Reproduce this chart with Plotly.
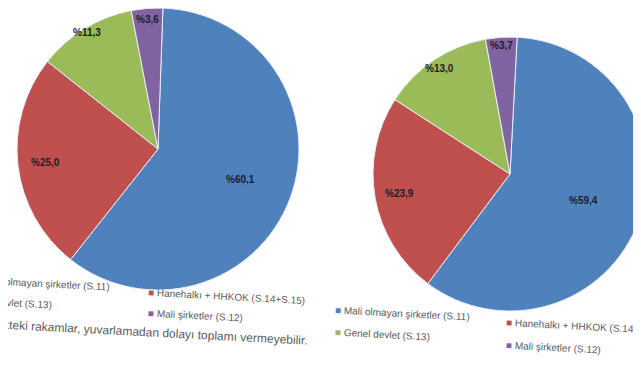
import math
import plotly.graph_objects as go

categories = ["Mali olmayan şirketler (S.11)", "Hanehalkı + HHKOK (S.14+S.15)",
              "Genel devlet (S.13)", "Mali şirketler (S.12)"]
values_left = [60.1, 25.0, 11.3, 3.6]
values_right = [59.4, 23.9, 13.0, 3.7]
colors = ["#4F81BD", "#C0504D", "#9BBB59", "#8064A2"]
footnote = "Grafikteki rakamlar, yuvarlamadan dolayı toplamı vermeyebilir."

W, H = 641, 380

# pie geometry (pixels) and label radial placement (fraction of radius, Excel "best fit" look)
pies = [
    dict(vals=values_left, cx=150, cy=141, r=141, rot=2, lab_r=[0.62, 0.8, 0.97, 0.92]),
    dict(vals=values_right, cx=502, cy=166, r=137, rot=3, lab_r=[0.57, 0.82, 0.93, 0.94]),
]


def fmt(v):
    return "%" + f"{v:.1f}".replace(".", ",")


fig = go.Figure()
annotations = []
lab_font = dict(family="Liberation Sans Narrow, Liberation Sans, Arial", size=10, color="#1c1c2c")
for p in pies:
    cx, cy, r = p["cx"], p["cy"], p["r"]
    fig.add_trace(go.Pie(
        labels=categories, values=p["vals"], sort=False, direction="clockwise",
        rotation=p["rot"],
        domain=dict(x=[(cx - r) / W, (cx + r) / W], y=[max(0, 1 - (cy + r) / H), min(1, 1 - (cy - r) / H)]),
        marker=dict(colors=colors, line=dict(color="#e8eef8", width=1)),
        textinfo="none", showlegend=False, hoverinfo="label+value",
    ))
    total = sum(p["vals"])
    cum = 0.0
    for v, f in zip(p["vals"], p["lab_r"]):
        mid = math.radians(p["rot"] + 360 * (cum + v / 2) / total)
        cum += v
        x = cx + f * r * math.sin(mid)
        y = cy - f * r * math.cos(mid)
        annotations.append(dict(text="<b>" + fmt(v) + "</b>", x=x / W, y=1 - y / H,
                                xref="paper", yref="paper", showarrow=False,
                                xanchor="center", yanchor="middle", font=lab_font))


def sq(c):
    return f"<span style='color:{c}'>■</span>"


leg_font = dict(family="Liberation Sans Narrow, Liberation Sans, Arial", size=10, color="#5a5a5a")
note_font = dict(family="Liberation Sans Narrow, Liberation Sans, Arial", size=12, color="#5a5a5a")
legend_items = [
    # left legend (partially cut at the left edge, as in the photo)
    (sq(colors[0]) + " " + categories[0], 104, 275, "right", leg_font),
    (sq(colors[2]) + " " + categories[2], 46, 294, "right", leg_font),
    (sq(colors[1]) + " " + categories[1], 138, 288, "left", leg_font),
    (sq(colors[3]) + " " + categories[3], 138, 307, "left", leg_font),
    (footnote, 302, 324, "right", note_font),
    # right legend
    (sq(colors[0]) + " " + categories[0], 325, 305, "left", leg_font),
    (sq(colors[2]) + " " + categories[2], 325, 326, "left", leg_font),
    (sq(colors[1]) + " " + categories[1], 496, 318, "left", leg_font),
    (sq(colors[3]) + " " + categories[3], 496, 339, "left", leg_font),
]
for t, x, y, a, fnt in legend_items:
    annotations.append(dict(text=t, x=x / W, y=1 - y / H, xref="paper", yref="paper",
                            xanchor=a, yanchor="middle", showarrow=False, textangle=3,
                            font=fnt))

fig.update_layout(
    width=W, height=H, margin=dict(l=0, r=0, t=0, b=0),
    paper_bgcolor="white", plot_bgcolor="white",
    annotations=annotations,
)
fig.write_html("out.html")
